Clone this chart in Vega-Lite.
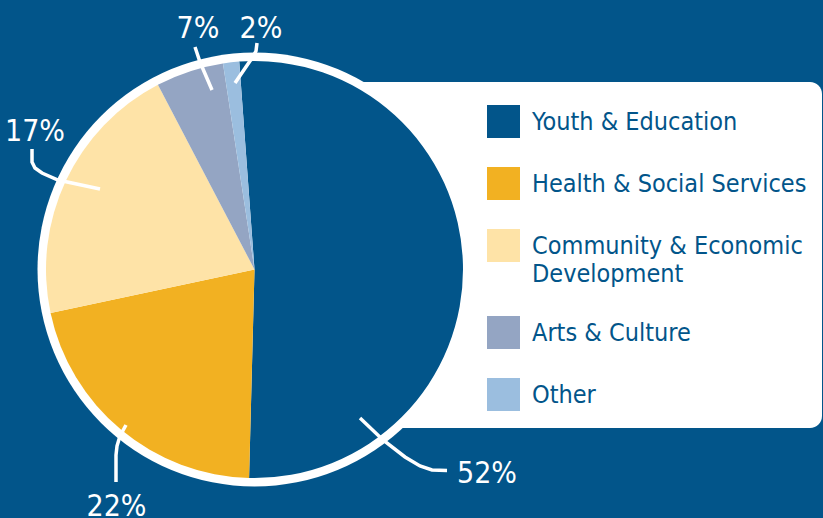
{
  "$schema": "https://vega.github.io/schema/vega-lite/v6.json",
  "width": 522,
  "height": 346,
  "autosize": {"type": "none"},
  "padding": {"left": 300, "top": 82, "right": 1, "bottom": 90},
  "background": "#02558a",
  "config": {
    "view": {"fill": "white", "stroke": null, "cornerRadius": 12},
    "font": "DejaVu Sans Condensed, DejaVu Sans, sans-serif",
    "style": {"guide-label": {"lineHeight": 28}}
  },
  "datasets": {
    "slices": [
      {"category": "Youth & Education", "ord": 1, "share": 51.58, "label": "52%", "lu": 111.51, "lv": -102.40},
      {"category": "Health & Social Services", "ord": 2, "share": 21.25, "label": "22%", "lu": -66.19, "lv": -118.23},
      {"category": "Community & Economic Development", "ord": 3, "share": 20.67, "label": "17%", "lu": -105.28, "lv": 61.63},
      {"category": "Arts & Culture", "ord": 4, "share": 5.25, "label": "7%", "lu": -27.10, "lv": 111.03},
      {"category": "Other", "ord": 5, "share": 1.25, "label": "2%", "lu": 3.12, "lv": 111.03}
    ],
    "leaders": [
      {"seg": "17%", "i": 1, "u": -106.71, "v": 57.79},
      {"seg": "17%", "i": 2, "u": -106.71, "v": 51.56},
      {"seg": "17%", "i": 3, "u": -105.28, "v": 48.68},
      {"seg": "17%", "i": 4, "u": -101.92, "v": 46.28},
      {"seg": "17%", "i": 5, "u": -94.24, "v": 42.93},
      {"seg": "17%", "i": 6, "u": -74.10, "v": 38.61},
      {"seg": "7%", "i": 1, "u": -28.54, "v": 106.71},
      {"seg": "7%", "i": 2, "u": -27.58, "v": 103.84},
      {"seg": "7%", "i": 3, "u": -26.14, "v": 99.52},
      {"seg": "7%", "i": 4, "u": -20.38, "v": 86.09},
      {"seg": "2%", "i": 1, "u": 1.20, "v": 108.63},
      {"seg": "2%", "i": 2, "u": 0.72, "v": 104.80},
      {"seg": "2%", "i": 3, "u": -1.20, "v": 101.44},
      {"seg": "2%", "i": 4, "u": -9.35, "v": 89.45},
      {"seg": "22%", "i": 1, "u": -66.43, "v": -101.92},
      {"seg": "22%", "i": 2, "u": -66.43, "v": -88.97},
      {"seg": "22%", "i": 3, "u": -65.95, "v": -84.65},
      {"seg": "22%", "i": 4, "u": -64.51, "v": -79.86},
      {"seg": "22%", "i": 5, "u": -61.63, "v": -74.58},
      {"seg": "52%", "i": 1, "u": 92.33, "v": -96.40},
      {"seg": "52%", "i": 2, "u": 85.13, "v": -96.16},
      {"seg": "52%", "i": 3, "u": 79.38, "v": -94.24},
      {"seg": "52%", "i": 4, "u": 72.18, "v": -89.93},
      {"seg": "52%", "i": 5, "u": 61.63, "v": -81.77},
      {"seg": "52%", "i": 6, "u": 50.60, "v": -71.22}
    ]
  },
  "layer": [
    {
      "data": {"values": [{"ring": "outline"}]},
      "mark": {"type": "arc", "radius": 217, "theta": 0, "theta2": 6.2832, "fill": "white"},
      "encoding": {
        "x": {"datum": 0, "type": "quantitative", "scale": {"domain": [21.82, 272.18], "nice": false, "zero": false}, "axis": null},
        "y": {"datum": 0, "type": "quantitative", "scale": {"domain": [-76.02, 89.93], "nice": false, "zero": false}, "axis": null}
      }
    },
    {
      "data": {"name": "slices"},
      "mark": {"type": "arc", "radius": 208.5},
      "encoding": {
        "x": {"datum": 0, "type": "quantitative"},
        "y": {"datum": 0, "type": "quantitative"},
        "theta": {"field": "share", "type": "quantitative", "stack": true, "scale": {"range": [-0.0733, 6.2099]}},
        "order": {"field": "ord", "type": "quantitative"},
        "color": {
          "field": "category",
          "type": "nominal",
          "sort": ["Youth & Education", "Health & Social Services", "Community & Economic Development", "Arts & Culture", "Other"],
          "scale": {
            "domain": ["Youth & Education", "Health & Social Services", "Community & Economic Development", "Arts & Culture", "Other"],
            "range": ["#02558a", "#f2b122", "#fee3a7", "#94a5c3", "#9bbedf"]
          },
          "legend": {
            "title": null,
            "orient": "none",
            "legendX": 187,
            "legendY": 23,
            "symbolType": "square",
            "symbolSize": 1089,
            "symbolStrokeWidth": 0,
            "symbolOpacity": 1,
            "labelFont": "DejaVu Sans Condensed, DejaVu Sans, sans-serif",
            "labelFontSize": 25,
            "labelColor": "#02558a",
            "labelOffset": 12,
            "labelLimit": 400,
            "rowPadding": 29,
            "labelExpr": "datum.label == 'Community & Economic Development' ? ['Community & Economic', 'Development'] : datum.label"
          }
        }
      }
    },
    {
      "data": {"name": "leaders"},
      "mark": {"type": "line", "color": "white", "strokeWidth": 3.5, "strokeCap": "butt", "interpolate": "linear"},
      "encoding": {
        "x": {"field": "u", "type": "quantitative"},
        "y": {"field": "v", "type": "quantitative"},
        "detail": {"field": "seg"},
        "order": {"field": "i", "type": "quantitative"}
      }
    },
    {
      "data": {"name": "slices"},
      "mark": {"type": "text", "color": "white", "fontSize": 30, "font": "DejaVu Sans Condensed, DejaVu Sans, sans-serif", "align": "center", "baseline": "alphabetic"},
      "encoding": {
        "x": {"field": "lu", "type": "quantitative"},
        "y": {"field": "lv", "type": "quantitative"},
        "text": {"field": "label"}
      }
    }
  ]
}
